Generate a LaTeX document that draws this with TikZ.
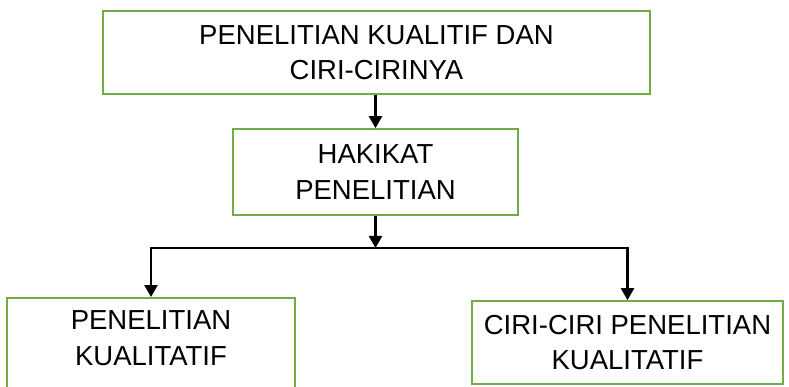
\documentclass[tikz,border=0pt]{standalone}
\usepackage{fontspec}
\setmainfont{Liberation Sans}
\usetikzlibrary{arrows.meta}
\definecolor{boxgreen}{HTML}{70AD47}
\begin{document}
\begin{tikzpicture}[x=1pt,y=-1pt,
  box/.style={draw=boxgreen, line width=1.6pt, inner sep=0pt, fill=white},
  lbl/.style={font=\fontsize{27.5}{35.5}\selectfont, align=center, inner sep=0pt},
  arr/.style={draw=black, line width=2.4pt, -{Triangle[width=13pt,length=12pt]}},
  con/.style={draw=black, line width=2.4pt}]
\useasboundingbox (0,0) rectangle (789,387);
\node[box, lbl, minimum width=547pt, minimum height=83pt] (top) at (376.5,52.5) {PENELITIAN KUALITIF DAN\\CIRI-CIRINYA};
\node[box, lbl, minimum width=285pt, minimum height=86pt] (mid) at (375.5,172) {HAKIKAT\\PENELITIAN};
\node[box, minimum width=288pt, minimum height=110pt, anchor=north] (bl) at (151,297) {};
\node[lbl] (bltext) at (151,338) {PENELITIAN\\KUALITATIF};
\node[box, lbl, minimum width=311pt, minimum height=83pt] (br) at (627.5,342.5) {CIRI-CIRI PENELITIAN\\KUALITATIF};
\coordinate (j) at (375.5,248);
\draw[arr] (mid.north |- top.south) -- (mid.north);
\draw[arr] (mid.south) -- (j);
\draw[arr, line join=miter] (j) -| (bl.north);
\draw[arr, line join=miter] (j) -| (br.north);
\end{tikzpicture}
\end{document}
